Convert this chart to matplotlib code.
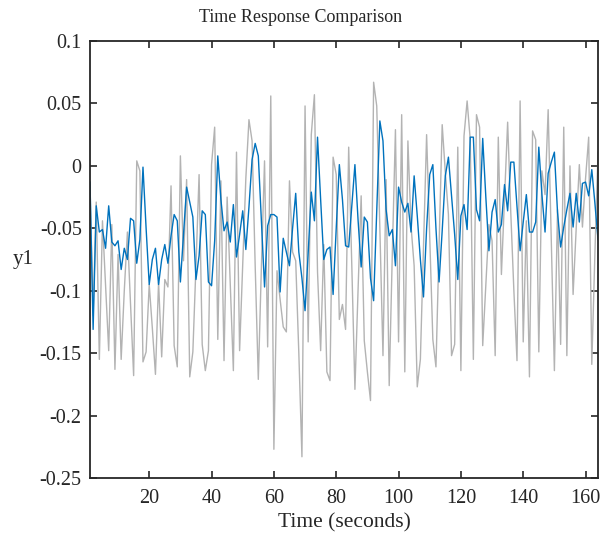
import matplotlib
matplotlib.use("Agg")
import matplotlib.pyplot as plt
import numpy as np

measured = [
    -0.015, -0.120, -0.029, -0.155, -0.044, -0.096, -0.148, -0.047, -0.163, -0.071,
    -0.155, -0.100, -0.053, -0.110, -0.168, 0.004, -0.004, -0.157, -0.149, -0.095,
    -0.130, -0.167, -0.093, -0.153, -0.091, -0.097, -0.016, -0.144, -0.161, 0.008,
    -0.076, -0.011, -0.169, -0.149, -0.080, -0.007, -0.143, -0.164, -0.148, 0.001,
    0.031, -0.139, -0.012, -0.156, -0.025, -0.095, -0.164, 0.011, -0.148, -0.080,
    -0.010, 0.037, 0.020, -0.080, -0.171, -0.080, 0.004, -0.145, 0.056, -0.227,
    -0.084, -0.107, -0.129, -0.133, -0.012, -0.069, -0.076, -0.150, -0.233, 0.048,
    -0.141, 0.025, 0.057, -0.085, -0.148, -0.063, -0.165, -0.172, 0.007, -0.007,
    -0.123, -0.111, -0.131, 0.015, -0.080, -0.179, -0.100, -0.024, -0.140, -0.165,
    -0.188, 0.067, 0.048, -0.050, -0.152, -0.011, -0.176, -0.070, 0.029, -0.141,
    0.041, -0.165, 0.020, -0.048, -0.080, -0.177, -0.155, -0.065, 0.025, -0.057,
    -0.139, -0.161, -0.065, 0.033, -0.005, -0.039, -0.152, -0.143, 0.015, -0.164,
    0.024, 0.052, 0.021, -0.155, 0.041, 0.031, -0.144, -0.095, -0.047, -0.060,
    -0.152, 0.023, -0.087, -0.026, 0.035, -0.037, -0.100, -0.156, 0.052, -0.141,
    -0.044, -0.169, 0.028, 0.021, -0.149, -0.004, -0.023, 0.045, -0.060, -0.164,
    -0.035, -0.143, 0.031, -0.152, 0.000, -0.103, -0.050, 0.001, -0.049, -0.010,
    0.023, -0.159, -0.070, 0.011,
]

simulated = [
    -0.013, -0.131, -0.032, -0.053, -0.051, -0.066, -0.032, -0.061, -0.064, -0.060,
    -0.083, -0.066, -0.075, -0.042, -0.044, -0.078, -0.059, -0.001, -0.050, -0.095,
    -0.075, -0.066, -0.095, -0.075, -0.063, -0.078, -0.056, -0.039, -0.044, -0.093,
    -0.055, -0.017, -0.029, -0.041, -0.091, -0.072, -0.036, -0.039, -0.093, -0.096,
    -0.060, 0.008, -0.027, -0.052, -0.045, -0.061, -0.031, -0.073, -0.055, -0.036,
    -0.067, -0.033, 0.005, 0.018, 0.008, -0.045, -0.097, -0.048, -0.039, -0.039,
    -0.041, -0.101, -0.058, -0.069, -0.080, -0.050, -0.022, -0.069, -0.090, -0.116,
    -0.070, -0.021, -0.044, 0.023, -0.027, -0.075, -0.067, -0.065, -0.103, -0.050,
    0.001, -0.027, -0.064, -0.065, -0.032, 0.001, -0.043, -0.081, -0.041, -0.045,
    -0.090, -0.108, -0.037, 0.036, 0.020, -0.035, -0.056, -0.051, -0.080, -0.017,
    -0.029, -0.037, -0.030, -0.053, -0.008, -0.040, -0.075, -0.105, -0.050, -0.007,
    0.001, -0.050, -0.093, -0.052, -0.008, 0.007, -0.024, -0.055, -0.091, -0.040,
    -0.031, -0.051, 0.023, 0.023, -0.035, -0.044, 0.022, -0.025, -0.068, -0.037,
    -0.027, -0.053, -0.047, -0.015, -0.036, 0.003, 0.003, -0.032, -0.068, -0.045,
    -0.023, -0.053, -0.053, -0.045, 0.015, -0.023, -0.053, -0.006, 0.003, 0.011,
    -0.037, -0.065, -0.049, -0.035, -0.022, -0.049, -0.022, -0.045, -0.014, -0.013,
    -0.024, -0.003, -0.030, -0.059,
]

time = np.arange(1, len(measured) + 1)
xticks = [20, 40, 60, 80, 100, 120, 140, 160]
yticks = [0.1, 0.05, 0, -0.05, -0.1, -0.15, -0.2, -0.25]
yticklabels = ["0.1", "0.05", "0", "-0.05", "-0.1", "-0.15", "-0.2", "-0.25"]

plt.rcParams['font.family'] = ['Liberation Serif', 'DejaVu Serif']

fig = plt.figure(figsize=(6.02, 5.37), dpi=100)
ax = fig.add_axes([0.1495, 0.1099, 0.8439, 0.8137])

ax.plot(time, measured, color=(0.70, 0.70, 0.70), linewidth=1.0)
ax.plot(time, simulated, color="#0072BD", linewidth=1.0)

ax.set_xlim(1, 164)
ax.set_ylim(-0.25, 0.1)
ax.set_xticks(xticks)
ax.set_xticklabels([str(v) for v in xticks])
ax.set_yticks(yticks)
ax.set_yticklabels(yticklabels)

ax.tick_params(direction='in', top=True, right=True, length=5, width=1.2,
               labelsize=14.5, colors='#262626')
ax.tick_params(axis='x', pad=8)
ax.tick_params(axis='y', pad=6)
for s in ax.spines.values():
    s.set_linewidth(1.3)
    s.set_color('#262626')

fig.text(0.5, 1 - 17 / 537, "Time Response Comparison", fontsize=13,
         color='#262626', ha='center', va='center')
ax.set_xlabel("Time (seconds)", fontsize=15.5, color='#262626', labelpad=4)
ax.set_ylabel("y1", fontsize=15, color='#262626', rotation=0, labelpad=12, va='center')

fig.savefig("out.png", dpi=100)
